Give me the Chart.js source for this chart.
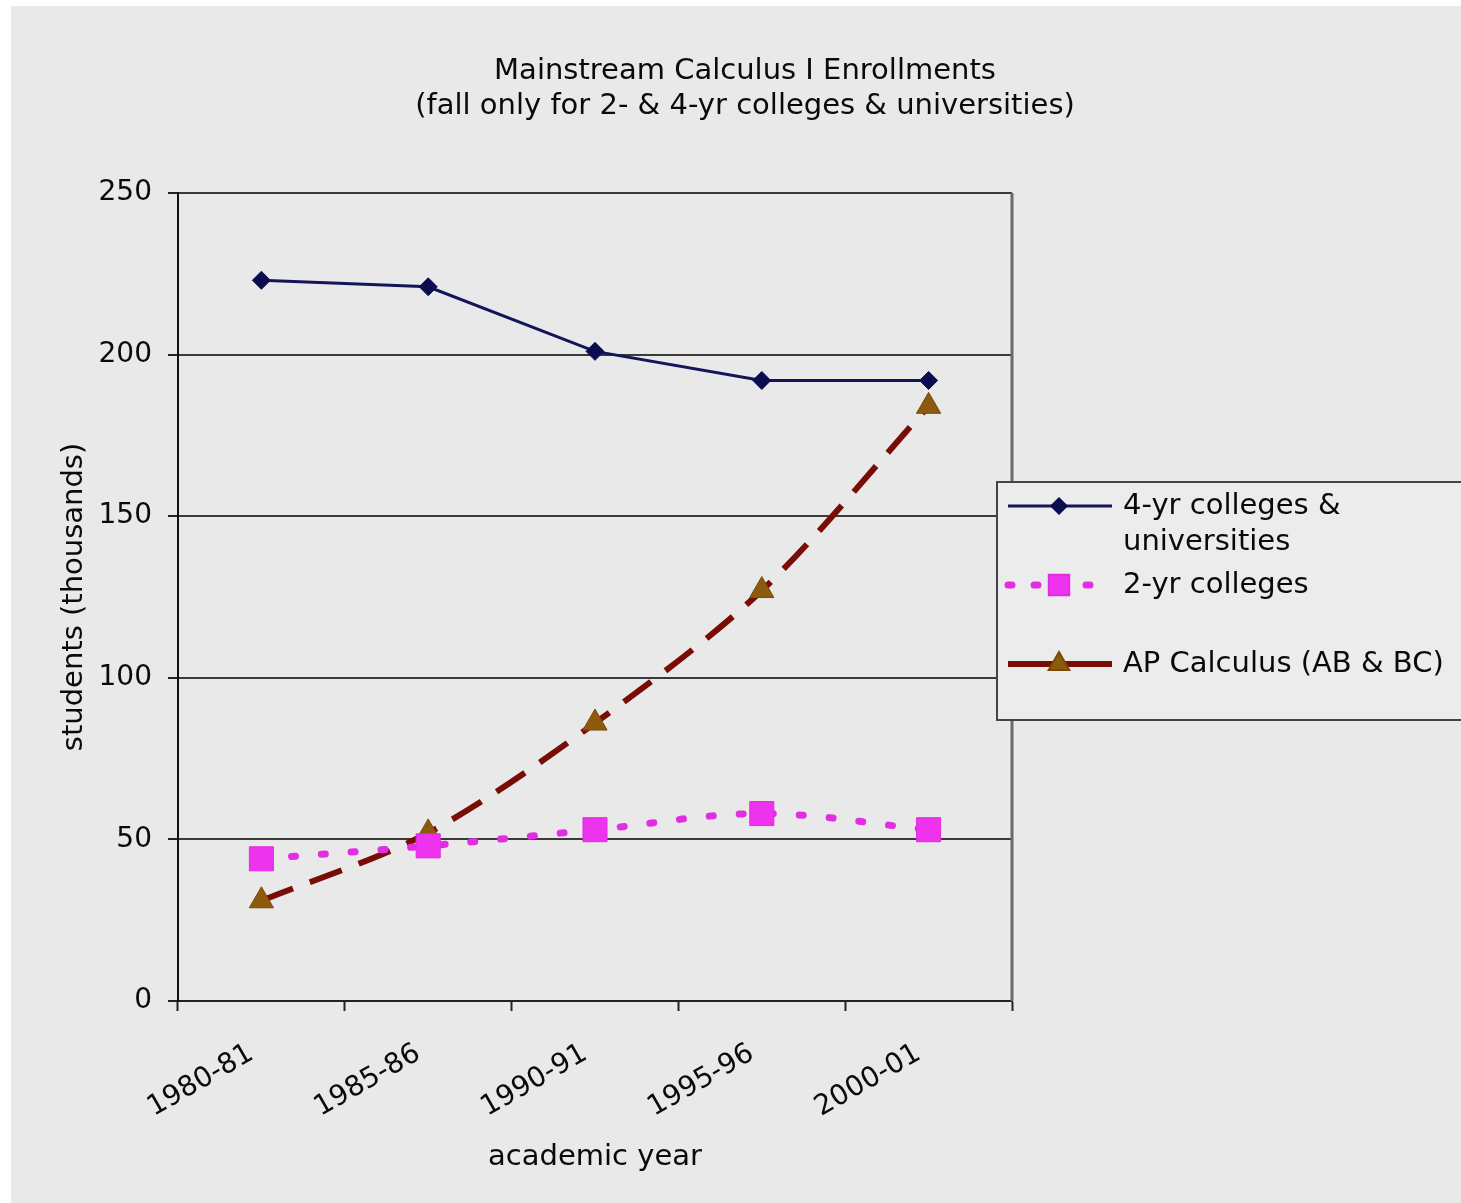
<!DOCTYPE html>
<html>
<head>
<meta charset="utf-8">
<title>Mainstream Calculus I Enrollments</title>
<script src="https://cdn.jsdelivr.net/npm/chart.js@4.4.1/dist/chart.umd.min.js"></script>
<style>
  html, body { margin: 0; padding: 0; background: #fff; }
  #box { width: 1461px; height: 1203px; }
</style>
</head>
<body>
<div id="box"><canvas id="chart" width="1461" height="1203"></canvas></div>
<script>
// enrollment data, thousands of students
var years = ['1980-81', '1985-86', '1990-91', '1995-96', '2000-01'];
var fourYear = [223, 221, 201, 192, 192];
var twoYear = [44, 48, 53, 58, 53];
var apCalc = [31, 52, 86, 127, 184];
var yTicks = [0, 50, 100, 150, 200, 250];

var titleLines = ['Mainstream Calculus I Enrollments', '(fall only for 2- & 4-yr colleges & universities)'];
var legendLines = [['4-yr colleges &', 'universities'], ['2-yr colleges'], ['AP Calculus (AB & BC)']];

var FONT = '"DejaVu Sans", Verdana, sans-serif';
var BG = '#e9e9e9';
var INK = '#0a0a0a';

// page background with the thin white margin on top/left
var backdrop = {
  id: 'backdrop',
  beforeDraw: function (chart) {
    var c = chart.ctx;
    c.save();
    c.fillStyle = '#ffffff';
    c.fillRect(0, 0, chart.width, chart.height);
    c.fillStyle = BG;
    c.fillRect(11, 6, chart.width - 11, chart.height - 6);
    c.restore();
  },
  beforeDatasetsDraw: function (chart) {
    // right edge of the plot frame
    var a = chart.chartArea, c = chart.ctx;
    c.save();
    c.strokeStyle = '#6a6a6a';
    c.lineWidth = 3;
    c.beginPath();
    c.moveTo(a.right, a.top);
    c.lineTo(a.right, a.bottom);
    c.stroke();
    c.restore();
  }
};

// two-line heading
var heading = {
  id: 'heading',
  afterDraw: function (chart) {
    var c = chart.ctx;
    c.save();
    c.fillStyle = INK;
    c.font = '29px ' + FONT;
    c.textAlign = 'center';
    c.textBaseline = 'middle';
    c.fillText(titleLines[0], 745, 71);
    c.fillText(titleLines[1], 745, 106);
    c.restore();
  }
};

// boxed legend on the right, samples drawn from the dataset styles
var sideLegend = {
  id: 'sideLegend',
  afterDraw: function (chart) {
    var c = chart.ctx;
    c.save();
    c.fillStyle = '#ececec';
    c.fillRect(997, 482, 480, 238);
    c.strokeStyle = '#444';
    c.lineWidth = 2;
    c.strokeRect(997, 482, 480, 238);

    var rows = [506, 585, 664];
    chart.data.datasets.forEach(function (ds, i) {
      var y = rows[i];
      c.save();
      c.strokeStyle = ds.borderColor;
      c.lineWidth = ds.borderWidth;
      c.setLineDash(ds.legendDash || []);
      c.lineCap = ds.borderCapStyle || 'butt';
      c.beginPath();
      c.moveTo(1008, y);
      c.lineTo(1112, y);
      c.stroke();
      c.restore();
      c.save();
      c.fillStyle = ds.pointBackgroundColor;
      c.strokeStyle = ds.pointBorderColor;
      Chart.helpers.drawPoint(c, {
        pointStyle: ds.pointStyle,
        radius: ds.pointRadius * 0.85,
        rotation: 0,
        borderWidth: 1
      }, 1059, y);
      c.restore();

      c.fillStyle = INK;
      c.font = '29px ' + FONT;
      c.textAlign = 'left';
      c.textBaseline = 'middle';
      legendLines[i].forEach(function (line, k) {
        c.fillText(line, 1123, y + k * 36);
      });
    });
    c.restore();
  }
};

var config = {
  type: 'line',
  data: {
    labels: years,
    datasets: [
      {
        label: '4-yr colleges & universities',
        data: fourYear,
        borderColor: '#14145a',
        borderWidth: 3,
        tension: 0,
        pointStyle: 'rectRot',
        pointRadius: 9,
        pointBackgroundColor: '#0c0c50',
        pointBorderColor: '#0c0c50',
        pointBorderWidth: 1
      },
      {
        label: '2-yr colleges',
        data: twoYear,
        borderColor: '#e22ee2',
        borderWidth: 7,
        borderDash: [4, 26],
        legendDash: [4, 22],
        borderCapStyle: 'round',
        tension: 0.35,
        pointStyle: 'rect',
        pointRadius: 17,
        pointBackgroundColor: '#ee33ee',
        pointBorderColor: '#e02ce0',
        pointBorderWidth: 1
      },
      {
        label: 'AP Calculus (AB & BC)',
        data: apCalc,
        borderColor: '#7a0c06',
        borderWidth: 6,
        borderDash: [34, 18],
        legendDash: [],
        tension: 0.3,
        pointStyle: 'triangle',
        pointRadius: 14,
        pointBackgroundColor: '#8c5a0c',
        pointBorderColor: '#7a4a08',
        pointBorderWidth: 1
      }
    ]
  },
  options: {
    responsive: false,
    animation: false,
    devicePixelRatio: 1,
    layout: { padding: { top: 193, right: 449, left: 0, bottom: 0 } },
    plugins: {
      legend: { display: false },
      title: { display: false },
      tooltip: { enabled: false }
    },
    scales: {
      x: {
        offset: true,
        grid: {
          offset: true,
          drawOnChartArea: false,
          drawTicks: true,
          tickLength: 10,
          tickColor: '#222',
          tickWidth: 2
        },
        border: { color: '#222', width: 2 },
        ticks: {
          autoSkip: false,
          maxRotation: 30,
          minRotation: 30,
          padding: 26,
          labelOffset: -10,
          color: INK,
          font: { family: FONT, size: 28 }
        },
        title: {
          display: true,
          text: 'academic year',
          color: INK,
          font: { family: FONT, size: 29 },
          padding: { top: 0, bottom: 28 }
        },
        afterFit: function (s) { s.height = 202; }
      },
      y: {
        min: 0,
        max: 250,
        afterBuildTicks: function (s) {
          s.ticks = yTicks.map(function (v) { return { value: v }; });
        },
        grid: {
          color: '#3a3a3a',
          lineWidth: 2,
          drawTicks: true,
          tickLength: 10,
          tickColor: '#222'
        },
        border: { color: '#111', width: 2 },
        ticks: {
          padding: 16,
          color: INK,
          font: { family: FONT, size: 28 }
        },
        title: {
          display: true,
          text: 'students (thousands)',
          color: INK,
          font: { family: FONT, size: 29 },
          padding: { top: 57, bottom: 0 }
        },
        afterFit: function (s) { s.width = 178; }
      }
    }
  },
  plugins: [backdrop, heading, sideLegend]
};

var ctx = document.getElementById('chart').getContext('2d');
var chart = new Chart(ctx, config);
</script>
</body>
</html>
